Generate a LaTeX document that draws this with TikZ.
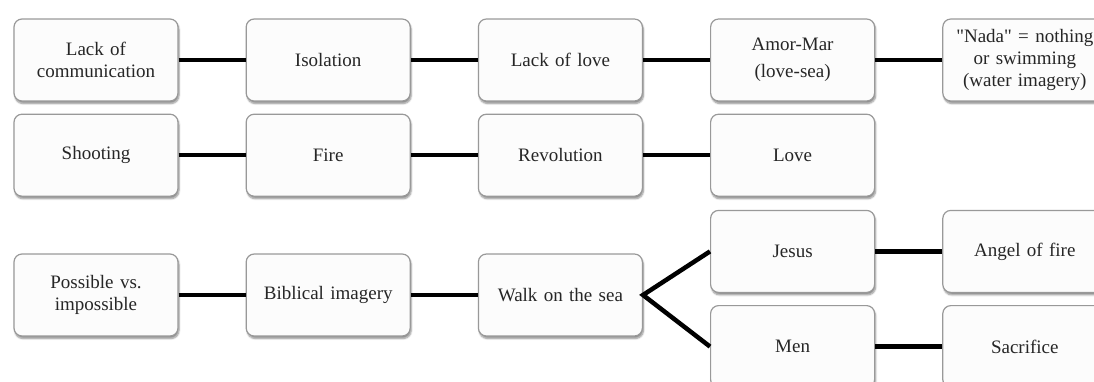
\documentclass[tikz,border=0pt]{standalone}
\usepackage{fontspec}
\newfontfamily\ideafont{Liberation Serif}
\usetikzlibrary{positioning, shadows.blur}
\tikzset{
  ideabox/.style={
    rectangle, rounded corners=8pt,
    minimum width=164pt, minimum height=82pt,
    text width=154pt, align=center, font=\ideafont\fontsize{19}{22}\selectfont,
    draw=gray!80, line width=1.2pt, fill=white!98!gray, text=black!85,
    blur shadow={shadow xshift=1pt, shadow yshift=-2.5pt,
                 shadow blur steps=6, shadow opacity=45}
  },
  linkline/.style={line width=4.5pt, color=black},
}

\begin{document}
\begin{tikzpicture}[x=1pt,y=1pt,node distance=67pt]
          \useasboundingbox (0,0) rectangle (1094,-381);
          % first row
          \node[ideabox] (lack) at (96,-60) {Lack of\\communication};
          \node[ideabox,right=of lack] (iso) {Isolation};
          \node[ideabox,right=of iso] (nolove) {Lack of love};
          \node[ideabox,right=of nolove] (amor) {Amor-Mar\\[5pt](love-sea)};
          \node[ideabox,right=of amor] (nada) {"Nada" = nothing\\or swimming\\(water imagery)};
          % second row
          \node[ideabox,below=12pt of lack] (shoot) {Shooting};
          \node[ideabox,right=of shoot] (fire) {Fire};
          \node[ideabox,right=of fire] (revo) {Revolution};
          \node[ideabox,right=of revo] (love) {Love};
          % third row
          \node[ideabox] (poss) at (96,-295) {Possible vs.\\impossible};
          \node[ideabox,right=of poss] (bible) {Biblical imagery};
          \node[ideabox,right=of bible] (walk) {Walk on the sea};
          \node[ideabox,below=13pt of love] (jesus) {Jesus};
          \node[ideabox,below=12pt of jesus] (men) {Men};
          \node[ideabox,right=of jesus] (angel) {Angel of fire};
          \node[ideabox,right=of men] (sacr) {Sacrifice};
          \draw[linkline](lack.east)--(iso.west);
          \draw[linkline](iso.east)--(nolove.west);
          \draw[linkline](nolove.east)--(amor.west);
          \draw[linkline](amor.east)--(nada.west);
          \draw[linkline](shoot.east)--(fire.west);
          \draw[linkline](fire.east)--(revo.west);
          \draw[linkline](revo.east)--(love.west);
          \draw[linkline](poss.east)--(bible.west);
          \draw[linkline](bible.east)--(walk.west);
          \draw[linkline](jesus.west)--(walk.east)--(men.west);
          \draw[linkline](jesus.east)--(angel.west);
          \draw[linkline](men.east)--(sacr.west);
        \end{tikzpicture}
\end{document}
